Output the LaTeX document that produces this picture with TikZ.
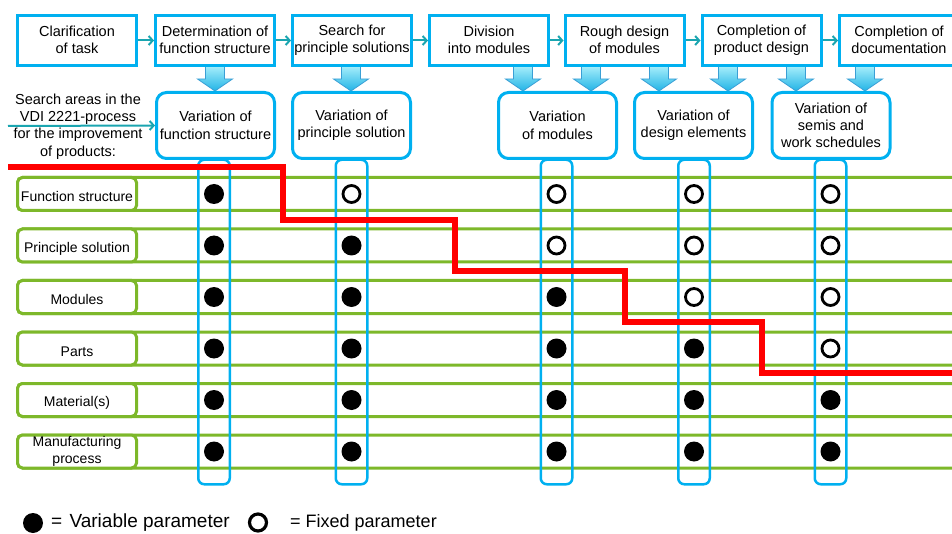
\documentclass[tikz,border=0pt]{standalone}
\usepackage{fontspec}
\setmainfont{Liberation Sans}
\usetikzlibrary{arrows.meta}
\definecolor{cy}{HTML}{00B0F0}
\definecolor{gr}{HTML}{7DB82A}
\definecolor{tl}{HTML}{1AA5B0}
\definecolor{arT}{HTML}{A6EEFB}
\definecolor{arB}{HTML}{22B4E6}
\definecolor{arD}{HTML}{3A9FD5}
\begin{document}
\begin{tikzpicture}[x=1pt,y=-1pt, font=\fontsize{14.5}{17.2}\selectfont,
 struts/.style={execute at begin node={\rule{0pt}{16.5pt}}, execute at end node={\rule[-0.7pt]{0pt}{0pt}}},
 topbox/.style={struts, draw=cy, line width=3pt, minimum width=119pt, minimum height=50pt, inner sep=0pt, align=center, fill=white},
 varbox/.style={struts, draw=cy, line width=3pt, rounded corners=10pt, minimum width=118pt, minimum height=66pt, inner sep=0pt, align=center, fill=white},
 collane/.style={draw=cy, line width=2.5pt, rounded corners=6pt, minimum width=31.5pt, minimum height=324.5pt, inner sep=0pt},
 rowlab/.style={struts, draw=gr, line width=3pt, rounded corners=5pt, minimum width=119pt, minimum height=33pt, inner sep=0pt, fill=white, align=center, font=\fontsize{14}{17}\selectfont},
 rowbar/.style={draw=gr, line width=3pt, rounded corners=5pt},
 vdot/.style={circle, fill=black, minimum size=20pt, inner sep=0pt},
 fdot/.style={circle, draw=black, line width=2.8pt, fill=white, minimum size=17pt, inner sep=0pt},
 flow/.style={draw=tl, line width=2pt, -{Straight Barb[length=4pt,width=9pt]}},
 blockarrow/.style={draw=arD, line width=0.8pt, top color=arT, bottom color=arB},
 redline/.style={draw=red, line width=5.5pt},
 legtext/.style={anchor=west, inner sep=0pt, font=\fontsize{18.5}{20}\selectfont},
]
\path[use as bounding box] (0,0) rectangle (952,534);
\clip (0,0) rectangle (952,534);

% green row bars
\foreach \r in {1,...,6}{
  \draw[rowbar] (17.5,{194+51.5*(\r-1)-16.5}) rectangle (985,{194+51.5*(\r-1)+16.5});
}

% columns
\foreach \cx [count=\c] in {214,351.5,556.5,694,830.5}{
  \node[collane] (col\c) at (\cx,322) {};
}

% block arrows
\foreach \ax in {215,351,523,591,659,728,796,865}{
  \path[blockarrow] (\ax-9.5,66) -- (\ax+9.5,66) -- (\ax+9.5,79) -- (\ax+17.5,79)
     -- (\ax,91) -- (\ax-17.5,79) -- (\ax-9.5,79) -- cycle;
}

% top boxes
\node[topbox] (t1) at (77,40.5) {Clarification\\of task};
\node[topbox] (t2) at (215,40.5) {Determination of\\function structure};
\node[topbox] (t3) at (352,40.5) {Search for\\principle solutions};
\node[topbox] (t4) at (489,40.5) {Division\\into modules};
\node[topbox] (t5) at (624.5,40.5) {Rough design\\of modules};
\node[topbox] (t6) at (761.5,40.5) {Completion of\\product design};
\node[topbox] (t7) at (899,40.5) {Completion of\\documentation};
\draw[flow] (t1) -- (t2);
\draw[flow] (t2) -- (t3);
\draw[flow] (t3) -- (t4);
\draw[flow] (t4) -- (t5);
\draw[flow] (t5) -- (t6);
\draw[flow] (t6) -- (t7);

% variation boxes
\node[varbox] (v1) at (215.5,125.5) {Variation of\\function structure};
\node[varbox] (v2) at (351.5,125.5) {Variation of\\principle solution};
\node[varbox] (v3) at (557.5,125.5) {Variation\\of modules};
\node[varbox] (v4) at (693.5,125.5) {Variation of\\design elements};
\node[varbox] (v5) at (831,125.5) {Variation of\\semis and\\work schedules};

% search areas text and arrow
\node[struts, align=center, inner sep=0pt] (sa) at (78,126.5) {Search areas in the\\VDI 2221-process\\for the improvement\\of products:};
\coordinate (sa0) at (8,126);
\draw[flow] (sa0) -- (v1.west);

% row labels
\node[rowlab] (l1) at (77,194) {Function structure};
\node[rowlab] (l2) at (77,245.5) {Principle solution};
\node[rowlab] (l3) at (77,297) {Modules};
\node[rowlab] (l4) at (77,348.5) {Parts};
\node[rowlab] (l5) at (77,400) {Material(s)};
\node[rowlab] (l6) at (77,451.5) {Manufacturing\\process};

% dots
\foreach \cx [count=\c] in {214,351.5,556.5,694,830.5}{
  \foreach \r in {1,...,6}{
    \pgfmathtruncatemacro\isopen{\r<\c ? 1 : 0}
    \ifnum\isopen=1
      \node[fdot] (d\c\r) at (\cx,{194+51.5*(\r-1)}) {};
    \else
      \node[vdot] (d\c\r) at (\cx,{194+51.5*(\r-1)}) {};
    \fi
  }
}

% red staircase
\coordinate (r0) at (8,167);
\coordinate (r1) at (283,220);
\coordinate (r2) at (455,271);
\coordinate (r3) at (625,322);
\coordinate (r4) at (762,373);
\coordinate (r5) at (960,373);
\draw[redline] (r0) -| (r1) -| (r2) -| (r3) -| (r4) -- (r5);

% legend
\node[vdot] (lv) at (33,523) {};
\node[legtext, font=\fontsize{19}{20}\selectfont] (lvt) at (51,523) {=\hspace{2pt} Variable parameter};
\node[fdot, line width=3.2pt] (lf) at (258,522.5) {};
\node[legtext, font=\fontsize{18}{20}\selectfont] (lft) at (290,523) {= Fixed parameter};
\end{tikzpicture}
\end{document}
